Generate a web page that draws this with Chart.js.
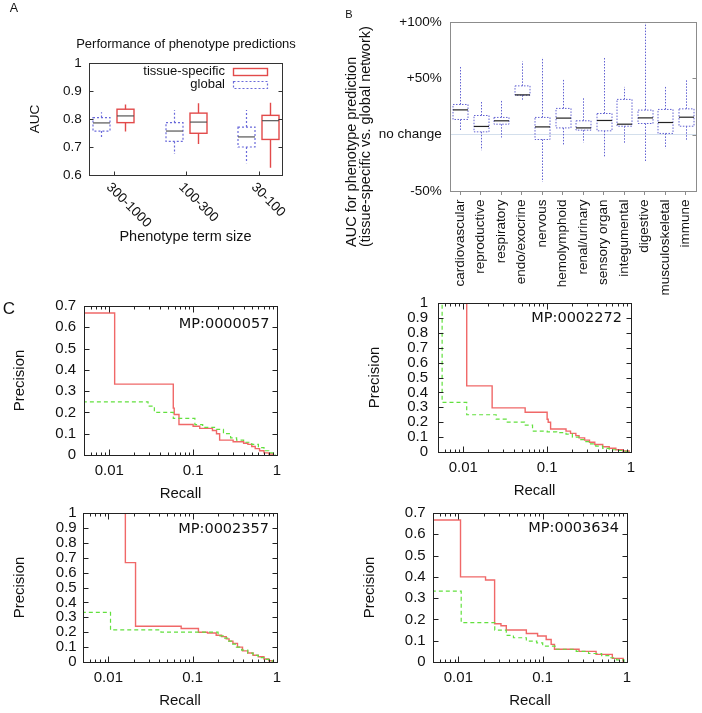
<!DOCTYPE html>
<html><head><meta charset="utf-8">
<script src="https://cdn.jsdelivr.net/npm/chart.js@4.4.1/dist/chart.umd.min.js"></script>
<style>
html,body{margin:0;padding:0;background:#fff;}
#wrap{position:relative;width:702px;height:713px;overflow:hidden;background:#fff;}
canvas{position:absolute;left:0;top:0;}
</style></head><body><div id="wrap"></div>
<script>
// ---------- Panel A data ----------
const termSizes = ['300-1000', '100-300', '30-100'];
const tissueMin = [0.755, 0.711, 0.626];
const tissueQ1  = [0.787, 0.749, 0.727];
const tissueMed = [0.811, 0.789, 0.794];
const tissueQ3  = [0.835, 0.821, 0.813];
const tissueMax = [0.852, 0.856, 0.858];
const globalMin = [0.735, 0.675, 0.642];
const globalQ1  = [0.757, 0.720, 0.700];
const globalMed = [0.786, 0.757, 0.736];
const globalQ3  = [0.805, 0.787, 0.771];
const globalMax = [0.824, 0.832, 0.832];
const aucTicks = [0.6, 0.7, 0.8, 0.9, 1];

// ---------- Panel B data ----------
const systems = ['cardiovascular','reproductive','respiratory','endo/exocrine','nervous','hemolymphoid','renal/urinary','sensory organ','integumental','digestive','musculoskeletal','immune'];
const changeMin = [3.4, -13.8, -2.5, 30, -41.9, -8.7, -6.9, -19.7, -7.8, -23.5, -12.3, -4.9];
const changeQ1  = [13.5, 2.5, 9.3, 35, -4.3, 6, 4, 3.4, 7.5, 9.9, 1.1, 7.5];
const changeMed = [22, 7.3, 12.3, 35.3, 6.9, 14.7, 6, 12.6, 9.3, 14.9, 10.8, 15.5];
const changeQ3  = [26.8, 17, 15.3, 43.3, 15.3, 23.3, 12.3, 18.8, 31.3, 21.8, 22.4, 22.9];
const changeMax = [60.2, 30, 30, 65, 68.6, 49, 33.6, 68.6, 42.4, 100, 42.4, 49];
const changeTicks = [-50, 0, 50, 100];
const changeTickLabels = ['-50%', 'no change', '+50%', '+100%'];

// ---------- Panel C data ----------
const recallTicks = [0.01, 0.1, 1];
const precisionTicksLow = [0, 0.1, 0.2, 0.3, 0.4, 0.5, 0.6, 0.7];
const precisionTicksFull = [0, 0.1, 0.2, 0.3, 0.4, 0.5, 0.6, 0.7, 0.8, 0.9, 1];

const tissueRecall57 = [0.004, 0.0116, 0.058, 0.0595, 0.0678, 0.1, 0.12, 0.17, 0.19, 0.207, 0.3, 0.4, 0.45, 0.5, 0.55, 0.62, 0.7, 0.8, 0.9];
const tissuePrec57   = [0.667, 0.333, 0.22, 0.19, 0.143, 0.135, 0.125, 0.115, 0.10, 0.07, 0.062, 0.055, 0.05, 0.04, 0.03, 0.02, 0.01, 0.005, 0];
const globalRecall57 = [0.004, 0.029, 0.0345, 0.058, 0.105, 0.13, 0.18, 0.23, 0.28, 0.33, 0.4, 0.5, 0.6, 0.7, 0.8, 0.95];
const globalPrec57   = [0.25, 0.23, 0.2, 0.172, 0.143, 0.13, 0.12, 0.1, 0.08, 0.07, 0.06, 0.05, 0.035, 0.02, 0.01, 0];

const tissueRecall2272 = [0.004, 0.011, 0.0221, 0.0547, 0.1, 0.103, 0.11, 0.168, 0.19, 0.22, 0.24, 0.28, 0.32, 0.37, 0.46, 0.55, 0.66, 0.8, 0.95];
const tissuePrec2272   = [1, 0.444, 0.296, 0.267, 0.22, 0.2, 0.154, 0.14, 0.125, 0.11, 0.095, 0.08, 0.065, 0.05, 0.035, 0.025, 0.015, 0.007, 0];
const globalRecall2272 = [0.004, 0.0056, 0.011, 0.0247, 0.0325, 0.0537, 0.067, 0.1, 0.13, 0.168, 0.2, 0.24, 0.28, 0.32, 0.38, 0.46, 0.55, 0.66, 0.8, 0.92];
const globalPrec2272   = [1, 0.333, 0.25, 0.22, 0.2, 0.18, 0.14, 0.135, 0.13, 0.12, 0.1, 0.083, 0.07, 0.054, 0.04, 0.025, 0.015, 0.01, 0.005, 0];

const tissueRecall2357 = [0.004, 0.0159, 0.021, 0.073, 0.117, 0.15, 0.19, 0.22, 0.25, 0.27, 0.3, 0.34, 0.39, 0.45, 0.52, 0.6, 0.7, 0.8, 0.9];
const tissuePrec2357   = [1, 0.667, 0.24, 0.225, 0.2, 0.195, 0.18, 0.17, 0.155, 0.14, 0.125, 0.1, 0.075, 0.06, 0.045, 0.035, 0.02, 0.008, 0];
const globalRecall2357 = [0.004, 0.0106, 0.042, 0.2, 0.23, 0.26, 0.29, 0.33, 0.38, 0.45, 0.52, 0.6, 0.7, 0.8, 0.9];
const globalPrec2357   = [0.333, 0.215, 0.2, 0.175, 0.16, 0.14, 0.12, 0.1, 0.08, 0.06, 0.045, 0.03, 0.018, 0.008, 0];

const tissueRecall3634 = [0.004, 0.0106, 0.021, 0.0269, 0.032, 0.037, 0.064, 0.087, 0.11, 0.126, 0.138, 0.27, 0.43, 0.67, 0.9];
const tissuePrec3634   = [0.667, 0.4, 0.385, 0.18, 0.17, 0.15, 0.134, 0.122, 0.106, 0.083, 0.06, 0.05, 0.036, 0.017, 0];
const globalRecall3634 = [0.004, 0.0108, 0.027, 0.037, 0.045, 0.064, 0.085, 0.1, 0.14, 0.25, 0.35, 0.5, 0.62, 0.75, 0.92];
const globalPrec3634   = [0.333, 0.185, 0.15, 0.125, 0.114, 0.098, 0.09, 0.075, 0.06, 0.05, 0.04, 0.03, 0.02, 0.01, 0];

// ---------- setup ----------
const W = 702, H = 713;
const SANS = "'Liberation Sans', Arial, Helvetica, sans-serif";
Chart.defaults.font.family = SANS;
Chart.defaults.font.size = 13;
Chart.defaults.color = '#111';
Chart.defaults.animation = false;
Chart.defaults.plugins.legend.display = false;
Chart.defaults.plugins.tooltip.enabled = false;

function makeCanvas() {
  const c = document.createElement('canvas');
  c.width = W; c.height = H;
  c.style.width = W + 'px'; c.style.height = H + 'px';
  document.getElementById('wrap').appendChild(c);
  return c;
}
function fixY(w) { return s => { s.width = w; s.paddingTop = 0; s.paddingBottom = 0; s.paddingLeft = 0; s.paddingRight = 0; }; }
function fixX(h) { return s => { s.height = h; s.paddingTop = 0; s.paddingBottom = 0; s.paddingLeft = 0; s.paddingRight = 0; }; }
const fmtNum = v => String(Math.round(v * 1000) / 1000);

// ---------- plugins ----------
const boxPlot = {
  id: 'boxPlot',
  afterDatasetsDraw(chart) {
    const ctx = chart.ctx, ys = chart.scales.y;
    chart.data.datasets.forEach((ds, di) => {
      if (!ds.box) return;
      const b = ds.box;
      chart.getDatasetMeta(di).data.forEach((el, i) => {
        const x = Math.round(el.x) + 0.5, hw = el.width / 2;
        const pMin = ys.getPixelForValue(b.min[i]), pMax = ys.getPixelForValue(b.max[i]);
        const pQ1 = ys.getPixelForValue(b.q1[i]), pQ3 = ys.getPixelForValue(b.q3[i]);
        const pMed = ys.getPixelForValue(b.med[i]);
        ctx.save();
        ctx.strokeStyle = b.color; ctx.lineWidth = b.width; ctx.setLineDash(b.dash);
        ctx.beginPath();
        ctx.moveTo(x, pQ3); ctx.lineTo(x, pMax);
        ctx.moveTo(x, pQ1); ctx.lineTo(x, pMin);
        ctx.stroke();
        ctx.strokeRect(Math.round(x - hw), pQ3, Math.round(2 * hw), pQ1 - pQ3);
        ctx.setLineDash([]);
        ctx.strokeStyle = b.medianColor; ctx.lineWidth = 1.2;
        ctx.beginPath();
        ctx.moveTo(Math.round(x - hw), pMed); ctx.lineTo(Math.round(x + hw), pMed);
        ctx.stroke();
        ctx.restore();
      });
    });
  }
};

const frameTicks = {
  id: 'frameTicks',
  afterDatasetsDraw(chart, args, o) {
    if (!o || !o.color) return;
    const ctx = chart.ctx, a = chart.chartArea, xs = chart.scales.x, ys = chart.scales.y;
    const x0 = Math.round(a.left) + 0.5, x1 = Math.round(a.right) + 0.5;
    const y0 = Math.round(a.top) + 0.5, y1 = Math.round(a.bottom) + 0.5;
    ctx.save();
    ctx.strokeStyle = o.color; ctx.lineWidth = 1;
    ctx.beginPath();
    (o.yValues || []).forEach(v => {
      const p = Math.round(ys.getPixelForValue(v)) + 0.5;
      if (o.yLeft) { ctx.moveTo(x0, p); ctx.lineTo(x0 + o.yLen, p); }
      if (o.yRight) { ctx.moveTo(x1, p); ctx.lineTo(x1 - o.yLen, p); }
    });
    const xt = (vals, len) => (vals || []).forEach(v => {
      const p = Math.round(xs.getPixelForValue(v)) + 0.5;
      ctx.moveTo(p, y1); ctx.lineTo(p, y1 - len);
      if (o.xTop) { ctx.moveTo(p, y0); ctx.lineTo(p, y0 + len); }
    });
    xt(o.xMajor, o.majorLen); xt(o.xMinor, o.minorLen);
    ctx.stroke();
    ctx.strokeRect(x0, y0, x1 - x0, y1 - y0);
    ctx.restore();
  }
};

const slantLabels = {
  id: 'slantLabels',
  afterDraw(chart, args, o) {
    if (!o || !o.labels) return;
    const ctx = chart.ctx, xs = chart.scales.x, bottom = chart.chartArea.bottom;
    ctx.save();
    ctx.font = o.size + 'px ' + SANS; ctx.fillStyle = '#111';
    ctx.textAlign = 'left'; ctx.textBaseline = 'middle';
    xs.ticks.forEach((t, i) => {
      const px = xs.getPixelForValue(t.value);
      ctx.save();
      ctx.translate(px + o.dx, bottom + o.dy);
      ctx.rotate(o.angle * Math.PI / 180);
      ctx.fillText(o.labels[i], 0, 0);
      ctx.restore();
    });
    ctx.restore();
  }
};

const insideLegend = {
  id: 'insideLegend',
  afterDraw(chart, args, o) {
    if (!o || !o.rows) return;
    const ctx = chart.ctx;
    ctx.save();
    ctx.font = o.size + 'px ' + SANS;
    chart.data.datasets.forEach((ds, i) => {
      const y = o.rows[i];
      ctx.fillStyle = '#111'; ctx.textAlign = 'right'; ctx.textBaseline = 'middle';
      ctx.fillText(ds.label, o.textRight, y);
      ctx.strokeStyle = ds.box.color; ctx.lineWidth = ds.box.width; ctx.setLineDash(ds.box.dash);
      ctx.strokeRect(o.sampleLeft + 0.5, Math.round(y - o.sampleH / 2) + 0.5, o.sampleW, o.sampleH);
      ctx.setLineDash([]);
    });
    ctx.restore();
  }
};

const textMarks = {
  id: 'textMarks',
  afterDraw(chart, args, o) {
    if (!o || !o.items) return;
    const ctx = chart.ctx, a = chart.chartArea;
    o.items.forEach(it => {
      ctx.save();
      ctx.font = it.size + 'px ' + (it.family || SANS);
      ctx.fillStyle = '#111';
      ctx.textAlign = it.align || 'center'; ctx.textBaseline = 'middle';
      const x = it.rel ? a.right - it.x : it.x;
      const y = it.rel ? a.top + it.y : it.y;
      ctx.translate(x, y);
      if (it.rot) ctx.rotate(it.rot * Math.PI / 180);
      ctx.fillText(it.text, 0, 0);
      ctx.restore();
    });
  }
};

// ---------- Panel A ----------
const areaA = {l: 89, t: 63, r: 282, b: 175};
new Chart(makeCanvas(), {
  type: 'bar',
  data: {
    datasets: [
      {
        label: 'tissue-specific',
        data: termSizes.map((s, i) => ({x: i + 1 + 0.159, y: [tissueQ1[i], tissueQ3[i]]})),
        backgroundColor: 'rgba(0,0,0,0)', borderWidth: 0, barThickness: 17, grouped: false,
        box: {min: tissueMin, q1: tissueQ1, med: tissueMed, q3: tissueQ3, max: tissueMax,
              color: '#e24a4a', width: 1.4, dash: [], medianColor: '#555'}
      },
      {
        label: 'global',
        data: termSizes.map((s, i) => ({x: i + 1 - 0.177, y: [globalQ1[i], globalQ3[i]]})),
        backgroundColor: 'rgba(0,0,0,0)', borderWidth: 0, barThickness: 17, grouped: false,
        box: {min: globalMin, q1: globalQ1, med: globalMed, q3: globalQ3, max: globalMax,
              color: '#6a6ada', width: 1.2, dash: [2, 2], medianColor: '#555'}
      }
    ]
  },
  options: {
    responsive: false, devicePixelRatio: 1, animation: false,
    layout: {padding: {left: 0, top: areaA.t, right: W - areaA.r, bottom: H - areaA.b - 75}},
    scales: {
      x: {
        type: 'linear', min: 0.655, max: 3.32, offset: false,
        afterBuildTicks: s => { s.ticks = termSizes.map((t, i) => ({value: i + 1})); },
        afterFit: fixX(75),
        ticks: {display: false},
        grid: {display: false, drawTicks: false},
        border: {display: false},
        title: {display: true, text: 'Phenotype term size', font: {size: 14.5}, padding: {top: 0, bottom: 4.8}}
      },
      y: {
        type: 'linear', min: 0.6, max: 1, beginAtZero: false,
        afterBuildTicks: s => { s.ticks = aucTicks.map(v => ({value: v})); },
        afterFit: fixY(areaA.l),
        ticks: {padding: 7.3, font: {size: 13.5}, callback: fmtNum, autoSkip: false},
        grid: {display: false, drawTicks: false},
        border: {display: false},
        title: {display: true, text: 'AUC', font: {size: 13.5}, padding: {top: 27, bottom: 0}}
      }
    },
    plugins: {
      frameTicks: {color: '#333', yValues: aucTicks, yLeft: true, yRight: true, yLen: 4,
                   xMajor: [1, 2, 3], majorLen: 4, xTop: false},
      slantLabels: {labels: termSizes, dx: -5.5, dy: 10, angle: 45, size: 13.5},
      insideLegend: {rows: [71.7, 84], textRight: 225, sampleLeft: 233, sampleW: 34, sampleH: 7, size: 13},
      textMarks: {items: [
        {text: 'A', x: 14, y: 9, size: 12.5},
        {text: 'Performance of phenotype predictions', x: 186, y: 44, size: 13}
      ]}
    }
  },
  plugins: [boxPlot, frameTicks, slantLabels, insideLegend, textMarks]
});

// ---------- Panel B ----------
const areaB = {l: 450, t: 22, r: 696, b: 191};
new Chart(makeCanvas(), {
  type: 'bar',
  data: {
    labels: systems,
    datasets: [{
      label: 'AUC change',
      data: systems.map((s, i) => [changeQ1[i], changeQ3[i]]),
      backgroundColor: 'rgba(0,0,0,0)', borderWidth: 0, barThickness: 15,
      box: {min: changeMin, q1: changeQ1, med: changeMed, q3: changeQ3, max: changeMax,
            color: '#6262d2', width: 1, dash: [1.5, 1.5], medianColor: '#222'}
    }]
  },
  options: {
    responsive: false, devicePixelRatio: 1, animation: false,
    layout: {padding: {left: 330, top: areaB.t, right: W - areaB.r, bottom: H - areaB.b - 150}},
    scales: {
      x: {
        afterFit: fixX(150),
        ticks: {minRotation: 90, maxRotation: 90, autoSkip: false, padding: 4.5, font: {size: 13.5}},
        grid: {display: true, offset: false, drawOnChartArea: false, drawTicks: true, tickLength: 4, color: '#8c8c8c'},
        border: {display: false}
      },
      y: {
        min: -50, max: 100, beginAtZero: false,
        afterBuildTicks: s => { s.ticks = changeTicks.map(v => ({value: v})); },
        afterFit: fixY(areaB.l - 330),
        ticks: {padding: 8.3, font: {size: 13.5}, autoSkip: false, callback: v => changeTickLabels[changeTicks.indexOf(v)]},
        grid: {drawTicks: false, color: c => (c.tick && c.tick.value === 0) ? '#d3dfec' : 'rgba(0,0,0,0)', lineWidth: 1},
        border: {display: false}
      }
    },
    plugins: {
      frameTicks: {color: '#8c8c8c', yValues: [0, 50], yLeft: false, yRight: true, yLen: 4},
      textMarks: {items: [
        {text: 'B', x: 349, y: 15, size: 11},
        {text: 'AUC for phenotype prediction', x: 351.7, y: 247, size: 14.5, rot: -90, align: 'left'},
        {text: '(tissue-specific vs. global network)', x: 365.5, y: 247, size: 14.5, rot: -90, align: 'left'}
      ]}
    }
  },
  plugins: [boxPlot, frameTicks, textMarks]
});

// ---------- Panel C ----------
const recallMinor = [];
[-3, -2, -1].forEach(e => { for (let m = 2; m <= 9; m++) { const v = m * Math.pow(10, e); if (v >= 0.005 && v < 1) recallMinor.push(v); } });

function prChart(c) {
  const a = c.area;
  new Chart(makeCanvas(), {
    type: 'line',
    data: {
      datasets: [
        {label: 'global', data: c.globalR.map((r, i) => ({x: r, y: c.globalP[i]})),
         borderColor: '#62e03e', borderWidth: 1.2, borderDash: [4, 3], stepped: 'before', pointRadius: 0, fill: false},
        {label: 'tissue-specific', data: c.tissueR.map((r, i) => ({x: r, y: c.tissueP[i]})),
         borderColor: '#f06868', borderWidth: 1.4, stepped: 'before', pointRadius: 0, fill: false}
      ]
    },
    options: {
      responsive: false, devicePixelRatio: 1, animation: false,
      layout: {padding: {left: c.padLeft, top: a.t, right: W - a.r, bottom: H - a.b - 50}},
      scales: {
        x: {
          type: 'logarithmic', min: 0.005, max: 1,
          afterBuildTicks: s => { s.ticks = recallTicks.map(v => ({value: v})); },
          afterFit: fixX(50),
          ticks: {padding: 6.6, font: {size: 15}, autoSkip: false, maxRotation: 0, callback: v => String(v)},
          grid: {display: false, drawTicks: false},
          border: {display: false},
          title: {display: true, text: 'Recall', font: {size: 15}, padding: {top: 0, bottom: 2.6}}
        },
        y: {
          type: 'linear', min: 0, max: c.yMax,
          afterBuildTicks: s => { s.ticks = c.yTicks.map(v => ({value: v})); },
          afterFit: fixY(a.l - c.padLeft),
          ticks: {padding: c.tickPad, font: {size: 15}, callback: fmtNum, autoSkip: false},
          grid: {display: false, drawTicks: false},
          border: {display: false},
          title: {display: true, text: 'Precision', font: {size: 15}, padding: {top: c.titlePad, bottom: 0}}
        }
      },
      plugins: {
        frameTicks: {color: '#222', yValues: c.yTicks, yLeft: true, yRight: true, yLen: 5,
                     xMajor: recallTicks, xMinor: recallMinor, majorLen: 6, minorLen: 3, xTop: true},
        textMarks: {items: c.marks}
      }
    },
    plugins: [frameTicks, textMarks]
  });
}

prChart({area: {l: 84, t: 306, r: 277, b: 455}, padLeft: 0, titlePad: 11, tickPad: 7.8,
  yMax: 0.7, yTicks: precisionTicksLow,
  tissueR: tissueRecall57, tissueP: tissuePrec57, globalR: globalRecall57, globalP: globalPrec57,
  marks: [{text: 'MP:0000057', x: 7.5, y: 18, rel: true, align: 'right', size: 14.5, family: "'DejaVu Sans', sans-serif"},
          {text: 'C', x: 9, y: 309, size: 17}]});

prChart({area: {l: 438, t: 303, r: 631, b: 452}, padLeft: 350, titlePad: 16, tickPad: 10,
  yMax: 1, yTicks: precisionTicksFull,
  tissueR: tissueRecall2272, tissueP: tissuePrec2272, globalR: globalRecall2272, globalP: globalPrec2272,
  marks: [{text: 'MP:0002272', x: 9, y: 15.5, rel: true, align: 'right', size: 14.5, family: "'DejaVu Sans', sans-serif"}]});

prChart({area: {l: 83, t: 513, r: 277, b: 662}, padLeft: 0, titlePad: 11, tickPad: 6.3,
  yMax: 1, yTicks: precisionTicksFull,
  tissueR: tissueRecall2357, tissueP: tissuePrec2357, globalR: globalRecall2357, globalP: globalPrec2357,
  marks: [{text: 'MP:0002357', x: 8, y: 16, rel: true, align: 'right', size: 14.5, family: "'DejaVu Sans', sans-serif"}]});

prChart({area: {l: 433, t: 513, r: 627, b: 662}, padLeft: 350, titlePad: 11, tickPad: 7.3,
  yMax: 0.7, yTicks: precisionTicksLow,
  tissueR: tissueRecall3634, tissueP: tissuePrec3634, globalR: globalRecall3634, globalP: globalPrec3634,
  marks: [{text: 'MP:0003634', x: 8, y: 15.7, rel: true, align: 'right', size: 14.5, family: "'DejaVu Sans', sans-serif"}]});
</script>
</body></html>
